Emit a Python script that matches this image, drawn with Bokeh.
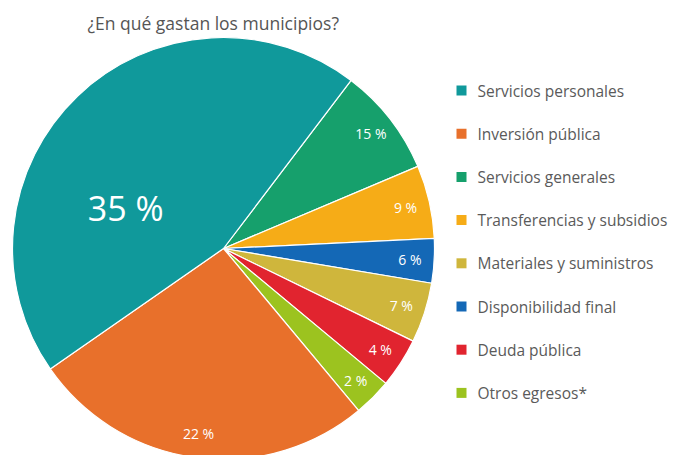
import math
from bokeh.plotting import figure
from bokeh.models import Range1d, ColumnDataSource
from bokeh.core.properties import value
from bokeh.embed import file_html
from bokeh.resources import INLINE

title = "¿En qué gastan los municipios?"
categories = ["Servicios personales", "Inversión pública", "Servicios generales",
              "Transferencias y subsidios", "Materiales y suministros",
              "Disponibilidad final", "Deuda pública", "Otros egresos*"]
pct_labels = [35, 22, 15, 9, 7, 6, 4, 2]
# angular share of the circle as the slices are drawn in the picture (%)
drawn_share = [45.0, 26.4, 8.3, 5.6, 4.6, 3.4, 3.8, 2.9]
colors = ["#10999B", "#E8702B", "#16A06C", "#F6AC17", "#CFB63C", "#1468B6", "#E1242F", "#9CC31F"]
# clockwise order of the slices, starting at the top-right boundary
pie_order = [2, 3, 5, 4, 6, 7, 1, 0]

W, H = 676, 455
FONT = "Open Sans"


def sx(x):  # screen x -> data x
    return x


def sy(y):  # screen y -> data y
    return H - y


p = figure(width=W, height=H, x_range=Range1d(0, W), y_range=Range1d(0, H),
           output_backend="svg", toolbar_location=None, min_border=0)
p.axis.visible = False
p.grid.visible = False
p.outline_line_color = None
p.background_fill_color = "white"
p.border_fill_color = "white"

cx, cy, R = sx(223), sy(248), 211
start0 = 37.2  # degrees clockwise from 12 o'clock

ws, we, wc, lx, ly, lt, lsz = [], [], [], [], [], [], []
cum = 0.0
for i in pie_order:
    a0 = start0 + cum * 3.6
    a1 = a0 + drawn_share[i] * 3.6
    cum += drawn_share[i]
    ws.append(math.radians(90 - a1))
    we.append(math.radians(90 - a0))
    wc.append(colors[i])
    mid = (a0 + a1) / 2
    r = R * 0.885
    if pct_labels[i] == max(pct_labels):
        mid, r = 292.7, 106
    lx.append(cx + r * math.sin(math.radians(mid)))
    ly.append(cy + r * math.cos(math.radians(mid)))
    lt.append(f"{pct_labels[i]} %")
    lsz.append("34px" if pct_labels[i] == max(pct_labels) else "14px")

src = ColumnDataSource(dict(s=ws, e=we, c=wc))
p.wedge(x=cx, y=cy, radius=R, start_angle="s", end_angle="e",
        fill_color="c", line_color="white", line_width=1.2, source=src)

lsrc = ColumnDataSource(dict(x=lx, y=ly, t=lt, fs=lsz))
p.text(x="x", y="y", text="t", text_font_size="fs", text_font=value(FONT),
       text_color="white", text_align="center", text_baseline="middle", source=lsrc)

# title
p.text(x=[sx(87)], y=[sy(22)], text=[title], text_font=value(FONT),
       text_font_size=value("17.5px"), text_color="#555555",
       text_align="left", text_baseline="middle")

# legend
ly0, dy = 90, 43.2
leg_y = [sy(ly0 + k * dy) for k in range(len(categories))]
p.scatter(x=[sx(461)] * len(categories), y=leg_y, marker="square", size=10,
          fill_color=colors, line_color=None)
p.text(x=[sx(477)] * len(categories), y=leg_y, text=categories, text_font=value(FONT),
       text_font_size=value("15.5px"), text_color="#5a5a5a",
       text_align="left", text_baseline="middle")

open("out.html", "w").write(file_html(p, INLINE))
